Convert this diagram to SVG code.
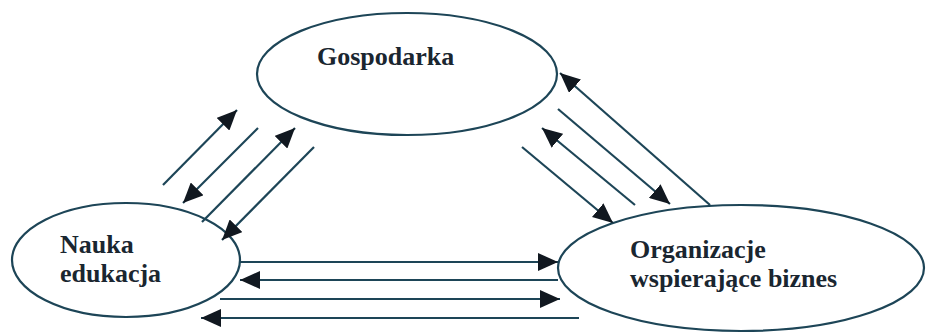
<svg xmlns="http://www.w3.org/2000/svg" width="927" height="333" viewBox="0 0 927 333">
  <style>
    .node ellipse { fill: #ffffff; stroke: #1d4557; stroke-width: 2.2; }
    .node text { font-family: "Liberation Serif", "Tinos", "DejaVu Serif", serif; font-weight: 700; font-size: 26px; fill: #1a2630; }
    .edges line { stroke: #1d4557; stroke-width: 2.2; marker-end: url(#head); }
  </style>
  <defs>
    <marker id="head" markerUnits="userSpaceOnUse" viewBox="0 0 20 18" refX="20" refY="9" markerWidth="20" markerHeight="18" orient="auto">
      <path d="M0,0 L20,9 L0,18 Z" fill="#111820"/>
    </marker>
  </defs>
  <rect width="927" height="333" fill="#ffffff"/>

  <g id="gospodarka" class="node">
    <ellipse cx="407" cy="74" rx="150" ry="61"/>
    <text x="317" y="65">Gospodarka</text>
  </g>

  <g id="nauka" class="node">
    <ellipse cx="126" cy="260" rx="114" ry="57"/>
    <text x="60" y="253">Nauka</text>
    <text x="60" y="282">edukacja</text>
  </g>

  <g id="organizacje" class="node">
    <ellipse cx="741" cy="268" rx="183" ry="63"/>
    <text x="630" y="258">Organizacje</text>
    <text x="630" y="287">wspierające biznes</text>
  </g>

  <g id="connectors" class="edges">
    <!-- Nauka ↔ Gospodarka -->
    <line x1="163" y1="185" x2="237" y2="110"/>
    <line x1="258" y1="128" x2="183" y2="203"/>
    <line x1="202" y1="222" x2="295" y2="128"/>
    <line x1="314" y1="147" x2="222" y2="240"/>
    <!-- Gospodarka ↔ Organizacje -->
    <line x1="710" y1="205" x2="560" y2="73"/>
    <line x1="558" y1="109" x2="670" y2="204"/>
    <line x1="635" y1="205" x2="542" y2="128"/>
    <line x1="522" y1="147" x2="613" y2="223"/>
    <!-- Nauka ↔ Organizacje -->
    <line x1="240" y1="262" x2="558" y2="262"/>
    <line x1="558" y1="280" x2="240" y2="280"/>
    <line x1="220" y1="299" x2="560" y2="299"/>
    <line x1="579" y1="318" x2="201" y2="318"/>
  </g>
</svg>
